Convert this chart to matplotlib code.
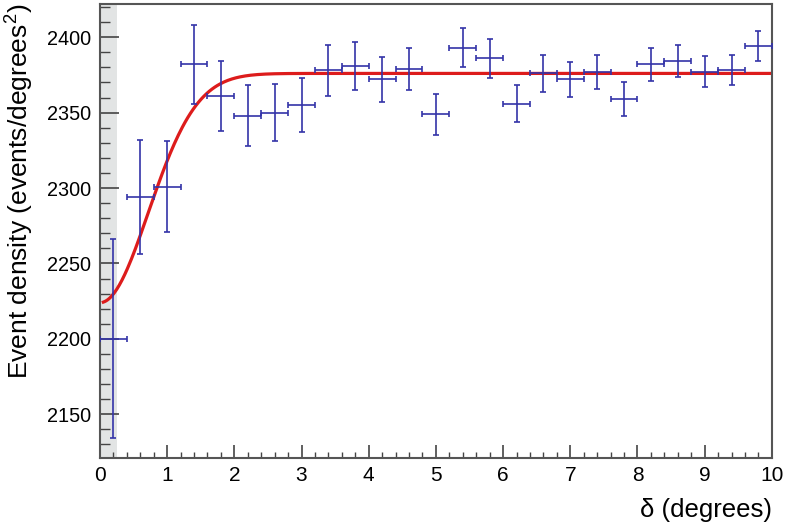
import numpy as np
import matplotlib
matplotlib.use("Agg")
import matplotlib.pyplot as plt
from matplotlib.ticker import MultipleLocator

plt.rcParams['font.family'] = ['Liberation Sans', 'DejaVu Sans']
plt.rcParams['mathtext.fontset'] = 'custom'
plt.rcParams['mathtext.rm'] = 'Liberation Sans'
plt.rcParams['mathtext.it'] = 'Liberation Sans'

# donnees
delta = [0.2, 0.6, 1.0, 1.4, 1.8, 2.2, 2.6, 3.0, 3.4, 3.8, 4.2, 4.6, 5.0,
         5.4, 5.8, 6.2, 6.6, 7.0, 7.4, 7.8, 8.2, 8.6, 9.0, 9.4, 9.8]
density = [2200, 2294, 2301, 2382, 2361, 2348, 2350, 2355, 2378, 2381, 2372,
           2379, 2349, 2393, 2386, 2356, 2376, 2372, 2377, 2359, 2382, 2384,
           2377, 2378, 2394]
density_err = [66, 38, 30, 26, 23, 20, 19, 18, 17, 16, 15, 14, 13.5, 13, 13,
               12.4, 12, 11.7, 11.3, 11, 10.8, 10.6, 10.3, 10, 10]
delta_err = 0.2

# parametres de l'ajustement : C - A*exp(-x^2 / (2 sigma^2))
fit_C = 2376.
fit_A = 152.
fit_sigma = 0.72
fit_xmin, fit_xmax = 0.05, 10.0

excl_max = 0.26   # zone exclue (grisee)

fig = plt.figure(figsize=(7.86, 5.26), dpi=100)
ax = fig.add_axes([0.1272, 0.1293, 0.8548, 0.863])

ax.axvspan(0, excl_max, color="#e2e4e4", lw=0, zorder=0)

x_fit = np.linspace(fit_xmin, fit_xmax, 500)
y_fit = fit_C - fit_A*np.exp(-x_fit**2/(2*fit_sigma**2))
ax.plot(x_fit, y_fit, color="#dd1c1c", lw=2.3, zorder=2)

ax.errorbar(delta, density, yerr=density_err, xerr=delta_err, fmt="none",
            ecolor="#3434a8", elinewidth=1.2, capsize=2.5, capthick=1.2,
            zorder=3)

ax.set_xlim(0, 10)
ax.set_ylim(2121, 2422)
ax.xaxis.set_major_locator(MultipleLocator(1))
ax.xaxis.set_minor_locator(MultipleLocator(0.2))
ax.yaxis.set_major_locator(MultipleLocator(50))
ax.yaxis.set_minor_locator(MultipleLocator(10))

ax.tick_params(axis="x", which="major", direction="in", length=9.5, width=1.2,
               color="#444444", labelsize=15, pad=6)
ax.tick_params(axis="x", which="minor", direction="in", length=4.5, width=1.0,
               color="#444444")
ax.tick_params(axis="y", which="major", direction="in", length=14, width=1.2,
               color="#444444", labelsize=14.3, pad=6.5)
ax.tick_params(axis="y", which="minor", direction="in", length=7, width=1.0,
               color="#444444")

for s in ax.spines.values():
    s.set_color("#555555")
    s.set_linewidth(1.5)

ax.set_xlabel("δ (degrees)", fontsize=18.5, loc="right", labelpad=9)
ax.set_ylabel(r"Event density (events/degrees$^{2}$)", fontsize=19, loc="top",
              labelpad=8)

plt.savefig("out.png", dpi=100)
